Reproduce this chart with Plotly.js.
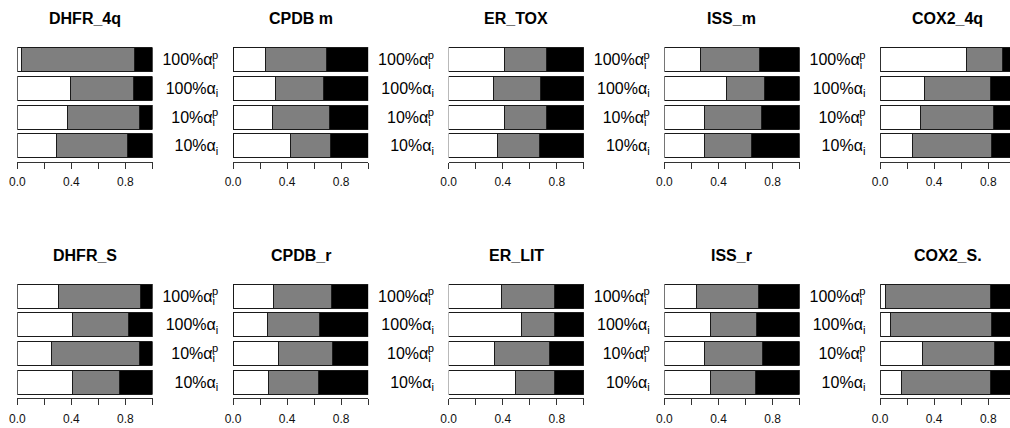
<!DOCTYPE html>
<html>
<head>
<meta charset="utf-8">
<script src="https://cdn.plot.ly/plotly-3.0.1.min.js"></script>
<style>
html,body{margin:0;padding:0;overflow:hidden;background:#fff;width:1010px;height:428px;}
#chart{width:1090px;height:428px;}
</style>
</head>
<body>
<div id="chart"></div>
<script>
// Panel names (top row then bottom row)
const panels = ['DHFR_4q','CPDB m','ER_TOX','ISS_m','COX2_4q','DHFR_S','CPDB_r','ER_LIT','ISS_r','COX2_S.'];
// Bar categories, top to bottom
const categories = ['100%a_i^p','100%a_i','10%a_i^p','10%a_i'];
const categoryLabels = [
  '100%α<sub><span style="letter-spacing:-3px">i</span></sub><sup>p</sup>',
  '100%α<sub>i</sub>',
  '10%α<sub><span style="letter-spacing:-3px">i</span></sub><sup>p</sup>',
  '10%α<sub>i</sub>'
];
// Shares per panel (order of categories), white / gray / black segments
const whiteShare = [
  [0.032,0.396,0.369,0.292],
  [0.243,0.315,0.295,0.427],
  [0.409,0.333,0.414,0.362],
  [0.270,0.460,0.295,0.297],
  [0.639,0.327,0.297,0.238],
  [0.307,0.405,0.256,0.405],
  [0.298,0.258,0.333,0.266],
  [0.390,0.536,0.337,0.496],
  [0.238,0.339,0.297,0.339],
  [0.042,0.079,0.317,0.156]
];
const grayShare = [
  [0.838,0.461,0.535,0.526],
  [0.452,0.357,0.417,0.295],
  [0.316,0.349,0.306,0.313],
  [0.435,0.283,0.420,0.347],
  [0.264,0.493,0.540,0.586],
  [0.602,0.416,0.646,0.354],
  [0.427,0.380,0.401,0.369],
  [0.394,0.248,0.405,0.288],
  [0.455,0.342,0.426,0.337],
  [0.772,0.745,0.527,0.661]
];
const blackShare = [
  [0.130,0.143,0.096,0.182],
  [0.305,0.328,0.288,0.278],
  [0.275,0.318,0.280,0.325],
  [0.295,0.257,0.285,0.356],
  [0.097,0.180,0.163,0.176],
  [0.091,0.179,0.098,0.241],
  [0.275,0.362,0.266,0.365],
  [0.216,0.216,0.258,0.216],
  [0.307,0.319,0.277,0.324],
  [0.186,0.176,0.156,0.183]
];
const xTicks = [0, 0.4, 0.8];
const xTickText = ['0.0','0.4','0.8'];
const xMinorTicks = [0.2, 0.6, 1.0];

const W = 1090, H = 428;
const font = 'Liberation Sans, Arial, sans-serif';
const segs = [
  {vals: whiteShare, color: '#ffffff'},
  {vals: grayShare, color: '#7f7f7f'},
  {vals: blackShare, color: '#000000'}
];
const traces = [];
const layout = {
  width: W, height: H,
  margin: {l:0,r:0,t:0,b:0},
  paper_bgcolor: '#fff', plot_bgcolor: 'rgba(0,0,0,0)',
  barmode: 'stack', bargap: 0.1667,
  showlegend: false,
  annotations: []
};
const colStart = 17.3, colStep = 215.7, plotW = 135.2;
const rows = [
  {top: 45.45, bottom: 162.0, title: 18.5},
  {top: 281.85, bottom: 398.4, title: 255.5}
];
panels.forEach((name, i) => {
  const r = Math.floor(i/5), c = i % 5;
  const n = i + 1;
  const xa = 'x' + n, ya = 'y' + n;
  segs.forEach(s => {
    traces.push({
      type: 'bar', orientation: 'h',
      x: s.vals[i], y: categories,
      xaxis: xa, yaxis: ya,
      marker: {color: s.color, line: {color: '#1a1a1a', width: 1}},
      hoverinfo: 'skip'
    });
  });
  const x0 = colStart + colStep * c;
  const row = rows[r];
  layout['xaxis' + n] = {
    domain: [x0 / W, (x0 + plotW) / W],
    anchor: ya,
    range: [0, 1],
    showgrid: false, zeroline: false,
    showline: true, linecolor: '#333', linewidth: 1,
    ticks: 'outside', ticklen: 6, tickcolor: '#333', tickwidth: 1,
    tickmode: 'array', tickvals: xTicks, ticktext: xTickText,
    minor: {tickmode: 'array', tickvals: xMinorTicks, ticks: 'outside', ticklen: 6, tickcolor: '#333', tickwidth: 1, showgrid: false},
    ticklabelstandoff: 3,
    tickfont: {family: font, size: 12, color: '#111'},
    fixedrange: true, automargin: false
  };
  layout['yaxis' + n] = {
    domain: [1 - row.bottom / H, 1 - row.top / H],
    anchor: 'free', side: 'left',
    position: (x0 + 201) / W,
    type: 'category',
    range: [3.565, -0.5],
    showgrid: false, zeroline: false, showline: false,
    ticks: '', tickvals: categories, ticktext: categoryLabels,
    showticklabels: c < 4,
    tickfont: {family: font, size: 16, color: '#000'},
    fixedrange: true, automargin: false
  };
  layout.annotations.push({
    text: name, xref: xa + ' domain', x: 0.5, xanchor: 'center',
    yref: 'paper', y: 1 - row.title / H, yanchor: 'middle',
    showarrow: false,
    font: {family: font, size: 16, color: '#000', weight: 'bold'}
  });
});
Plotly.newPlot('chart', traces, layout, {staticPlot: true, displayModeBar: false});
</script>
</body>
</html>
